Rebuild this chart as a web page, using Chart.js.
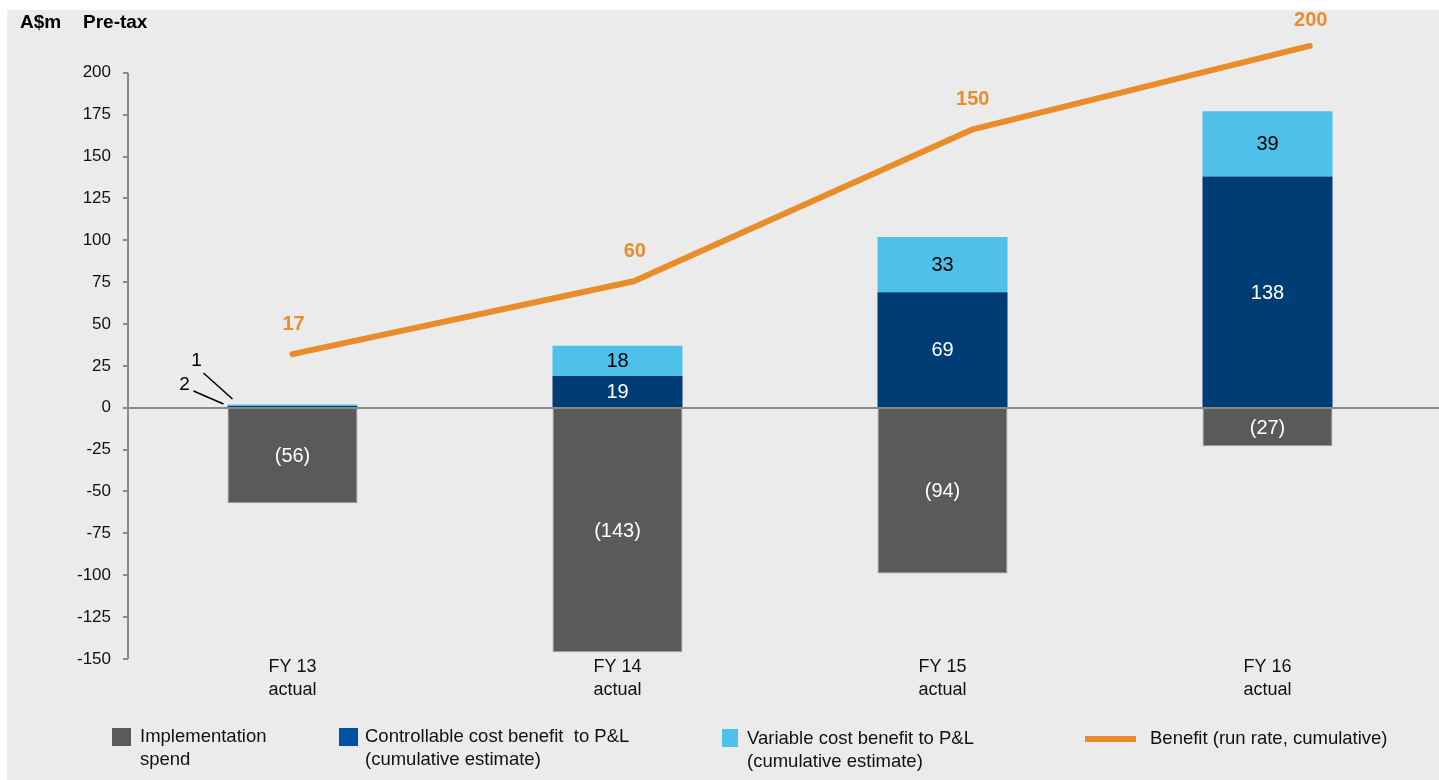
<!DOCTYPE html>
<html>
<head>
<meta charset="utf-8">
<script src="https://cdn.jsdelivr.net/npm/chart.js@4.4.0/dist/chart.umd.min.js"></script>
<style>
  html, body { margin: 0; padding: 0; background: #ffffff; }
  #wrap { position: relative; width: 1439px; height: 780px; }
</style>
</head>
<body>
<div id="wrap"><canvas id="benefit-chart" width="1439" height="780"></canvas></div>
<script>
// categories
const years = [["FY 13", "actual"], ["FY 14", "actual"], ["FY 15", "actual"], ["FY 16", "actual"]];

// bar series (A$m, as plotted)
const implementationSpend = [-57, -146, -99, -23];
const controllableBenefit = [1, 19, 69, 138];
const variableBenefit = [1, 18, 33, 39];

// printed labels on the bars
const implementationText = ["(56)", "(143)", "(94)", "(27)"];
const controllableText = [null, "19", "69", "138"];
const variableText = [null, "18", "33", "39"];

// run-rate line: x in category units, y as plotted
const benefitX = [0, 1.05, 2.09, 3.13];
const benefitY = [32, 75.5, 166, 216];
const benefitText = ["17", "60", "150", "200"];

// small callouts on FY 13
const fy13Callouts = ["1", "2"];

const FONT = "'Liberation Sans', Arial, Helvetica, sans-serif";
const GRAY = "#5a5a5a";
const NAVY = "#003d75";
const SKY = "#4fc0ea";
const ORANGE = "#e88d2a";
const AXIS = "#8a8a8a";

const chartPlugin = {
    id: "decor",
    beforeDraw(chart) {
        const c = chart.ctx;
        c.save();
        c.fillStyle = "#ffffff";
        c.fillRect(0, 0, chart.width, chart.height);
        c.fillStyle = "#eaebea";
        c.fillRect(7, 10, chart.width - 7, chart.height - 10);
        // title
        c.fillStyle = "#000";
        c.font = "bold 19px " + FONT;
        c.textBaseline = "middle";
        c.fillText("A$m", 20, 23);
        c.fillText("Pre-tax", 83, 23);
        c.restore();
    },
    afterDatasetsDraw(chart) {
        const c = chart.ctx;
        const y = chart.scales.y;
        const left = chart.chartArea.left - 2;
        c.save();
        // axis line and ticks
        c.strokeStyle = AXIS;
        c.lineWidth = 2;
        c.beginPath();
        c.moveTo(left, y.getPixelForValue(200));
        c.lineTo(left, y.getPixelForValue(-150));
        for (let v = -150; v <= 200; v += 25) {
            const py = Math.round(y.getPixelForValue(v));
            c.moveTo(left - 5, py);
            c.lineTo(left, py);
        }
        c.stroke();
        // zero line
        const zy = Math.round(y.getPixelForValue(0));
        c.beginPath();
        c.moveTo(left, zy);
        c.lineTo(chart.width, zy);
        c.stroke();

        // bar labels
        c.font = "20px " + FONT;
        c.textAlign = "center";
        c.textBaseline = "middle";
        const sets = [
            [0, implementationText, "#ffffff"],
            [1, controllableText, "#ffffff"],
            [2, variableText, "#000000"],
        ];
        sets.forEach(([di, texts, col]) => {
            chart.getDatasetMeta(di).data.forEach((el, i) => {
                if (!texts[i]) return;
                c.fillStyle = col;
                c.fillText(texts[i], el.x, (el.y + el.base) / 2 + 1);
            });
        });

        // run-rate labels
        c.font = "bold 20px " + FONT;
        c.fillStyle = ORANGE;
        chart.getDatasetMeta(3).data.forEach((pt, i) => {
            c.fillText(benefitText[i], pt.x + 1, Math.max(pt.y - 30, 20));
        });

        // FY 13 callouts
        const bar = chart.getDatasetMeta(2).data[0];
        const L = bar.x - bar.width / 2;
        c.fillStyle = "#000";
        c.strokeStyle = "#000";
        c.lineWidth = 1.5;
        c.font = "19px " + FONT;
        c.fillText(fy13Callouts[0], L - 31, zy - 47);
        c.fillText(fy13Callouts[1], L - 43, zy - 23);
        c.beginPath();
        c.moveTo(L - 24, zy - 35);
        c.lineTo(L + 5, zy - 9);
        c.moveTo(L - 34, zy - 17);
        c.lineTo(L - 4, zy - 4);
        c.stroke();

        c.restore();
    },
    afterDraw(chart) {
        // legend
        const c = chart.ctx;
        c.save();
        c.font = "18.5px " + FONT;
        c.textBaseline = "middle";
        c.fillStyle = GRAY;
        c.fillRect(112, 728, 19, 18);
        c.fillStyle = "#0052a0";
        c.fillRect(339, 728, 19, 18);
        c.fillStyle = SKY;
        c.fillRect(722, 729, 16, 18);
        c.fillStyle = ORANGE;
        c.fillRect(1085, 736, 51, 6);
        c.fillStyle = "#111";
        c.fillText("Implementation", 140, 737);
        c.fillText("spend", 140, 760);
        c.fillText("Controllable cost benefit  to P&L", 365, 737);
        c.fillText("(cumulative estimate)", 365, 760);
        c.fillText("Variable cost benefit to P&L", 747, 739);
        c.fillText("(cumulative estimate)", 747, 762);
        c.fillText("Benefit (run rate, cumulative)", 1150, 739);
        c.restore();
    },
};

const barCommon = {
    categoryPercentage: 0.4,
    barPercentage: 1,
    grouped: false,
};

const chart = new Chart(document.getElementById("benefit-chart"), {
    type: "bar",
    data: {
        labels: years,
        datasets: [
            Object.assign({
                label: "Implementation spend",
                data: implementationSpend,
                backgroundColor: GRAY,
                borderColor: "#a0a0a0",
                borderWidth: 1,
            }, barCommon),
            Object.assign({
                label: "Controllable cost benefit to P&L",
                data: controllableBenefit,
                backgroundColor: NAVY,
            }, barCommon),
            Object.assign({
                label: "Variable cost benefit to P&L",
                data: variableBenefit,
                backgroundColor: SKY,
            }, barCommon),
            {
                type: "line",
                label: "Benefit (run rate, cumulative)",
                data: benefitX.map((x, i) => ({ x: x, y: benefitY[i] })),
                xAxisID: "xl",
                stack: "line",
                borderColor: ORANGE,
                borderWidth: 6,
                borderCapStyle: "round",
                borderJoinStyle: "round",
                pointRadius: 0,
                fill: false,
                tension: 0,
                clip: false,
            },
        ],
    },
    options: {
        responsive: false,
        animation: false,
        devicePixelRatio: 1,
        layout: { padding: { left: 0, right: 9, top: 10, bottom: 61 } },
        plugins: {
            legend: { display: false },
            tooltip: { enabled: false },
        },
        scales: {
            x: {
                stacked: true,
                offset: true,
                grid: { display: false, drawTicks: false },
                border: { display: false },
                ticks: {
                    color: "#111",
                    font: { family: FONT, size: 18, lineHeight: 1.25 },
                    padding: -3,
                    maxRotation: 0,
                },
                afterFit(scale) { scale.height = 60; },
            },
            xl: {
                type: "linear",
                display: false,
                offset: false,
                min: -0.5,
                max: 3.5,
            },
            y: {
                stacked: true,
                min: -150,
                max: 226,
                grid: { display: false, drawTicks: false },
                border: { display: false },
                ticks: {
                    stepSize: 25,
                    color: "#111",
                    padding: 19,
                    font: { family: FONT, size: 17 },
                    callback: (v) => (v > 200 ? "" : v),
                },
                afterFit(scale) { scale.width = 130; },
            },
        },
    },
    plugins: [chartPlugin],
});
</script>
</body>
</html>
